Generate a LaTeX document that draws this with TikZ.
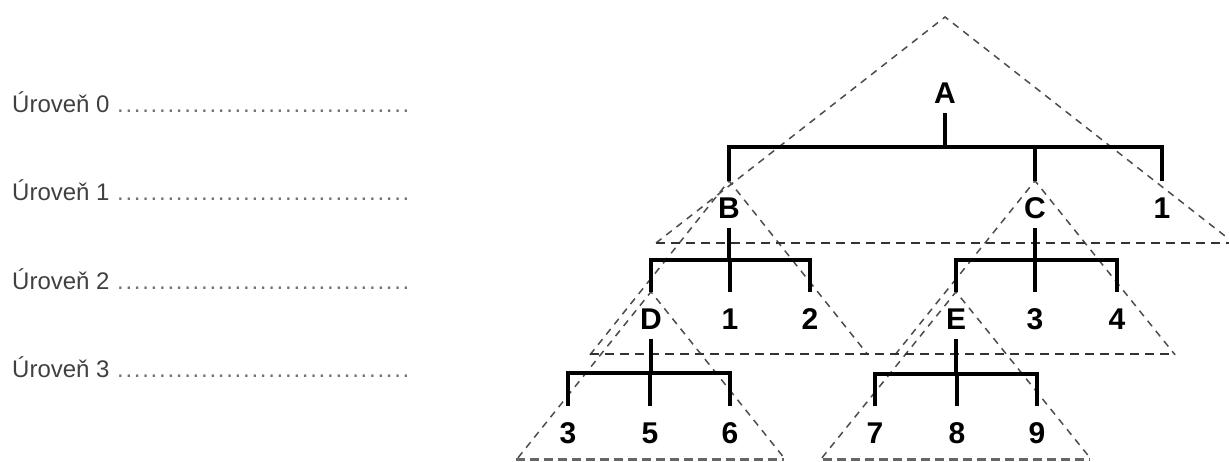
\documentclass[tikz,border=0pt]{standalone}
\usepackage{fontspec}
\setmainfont{Liberation Sans}
\begin{document}
\begin{tikzpicture}[x=1pt,y=-1pt,
  tree/.style={line width=4.5pt, line join=miter, black},
  lbl/.style={anchor=base, inner sep=0pt, text height=37pt, text depth=10pt,
    font=\fontsize{30}{34}\selectfont\bfseries},
  lvl/.style={anchor=base west, inner sep=0pt, text=black!75,
    font=\fontsize{24}{28}\selectfont},
  side/.style={black!70, line width=1.5pt, dash pattern=on 7pt off 6pt},
  base/.style={black!80, line width=2pt, dash pattern=on 9pt off 6pt},
  bottom/.style={black!60, line width=3pt, dash pattern=on 9pt off 5pt}]
\clip (0,0) rectangle (1229,461);
% level captions
\newcommand{\lvldots}[1]{\makebox[398pt][l]{Úroveň #1 \textcolor{black!55}{\xleaders\hbox to 8.3pt{\hss.\hss}\hfill}}}
\node[lvl] (L0) at (12,112) {\lvldots{0}};
\node[lvl] (L1) at (12,200) {\lvldots{1}};
\node[lvl] (L2) at (12,289) {\lvldots{2}};
\node[lvl] (L3) at (12,377) {\lvldots{3}};
% tree labels
\node[lbl] (A) at (945,103) {A};
\node[lbl] (B) at (729,218) {B};
\node[lbl] (C) at (1035,218) {C};
\node[lbl] (n1a) at (1162,218) {1};
\node[lbl] (D) at (651,329) {D};
\node[lbl] (n1b) at (730,329) {1};
\node[lbl] (n2) at (810,329) {2};
\node[lbl] (E) at (956,329) {E};
\node[lbl] (n3a) at (1035,329) {3};
\node[lbl] (n4) at (1117,329) {4};
\node[lbl] (n3b) at (568,443) {3};
\node[lbl] (n5) at (650,443) {5};
\node[lbl] (n6) at (730,443) {6};
\node[lbl] (n7) at (875,443) {7};
\node[lbl] (n8) at (957,443) {8};
\node[lbl] (n9) at (1037,443) {9};
% dashed triangles
\draw[side] (656,243) -- (945,17) -- (1234,243);
\draw[side] (B.north) ++(-139,174) -- (B.north) -- ++(139,174);
\draw[side] (C.north) ++(-140,174) -- (C.north) -- ++(140,174);
\draw[side] (D.north) ++(-133,166) -- (D.north) -- ++(133,166);
\draw[side] (E.north) ++(-134,166) -- (E.north) -- ++(134,166);
\draw[base] (656,243) -- (1229,243);
\draw[base] (590,354) -- (1175,354);
\draw[bottom] (516,459) -- (784,459);
\draw[bottom] (823,459) -- (1090,459);
% tree connectors
\coordinate (barA) at (945,147);
\coordinate (barB) at (729,260);
\coordinate (barC) at (1035,260);
\coordinate (barD) at (651,373);
\coordinate (barE) at (956,374);
\draw[tree] (A.south) -- (barA);
\draw[tree] (B.north) |- (barA) -| (n1a.north);
\draw[tree] (C.north) -- (C.north |- barA);
\draw[tree] (B.south) -- (barB);
\draw[tree] (D.north) |- (barB) -| (n2.north);
\draw[tree] (n1b.north) -- (n1b.north |- barB);
\draw[tree] (C.south) -- (barC);
\draw[tree] (E.north) |- (barC) -| (n4.north);
\draw[tree] (n3a.north) -- (n3a.north |- barC);
\draw[tree] (D.south) -- (barD);
\draw[tree] (n3b.north) |- (barD) -| (n6.north);
\draw[tree] (n5.north) -- (n5.north |- barD);
\draw[tree] (E.south) -- (barE);
\draw[tree] (n7.north) |- (barE) -| (n9.north);
\draw[tree] (n8.north) -- (n8.north |- barE);
\end{tikzpicture}
\end{document}
